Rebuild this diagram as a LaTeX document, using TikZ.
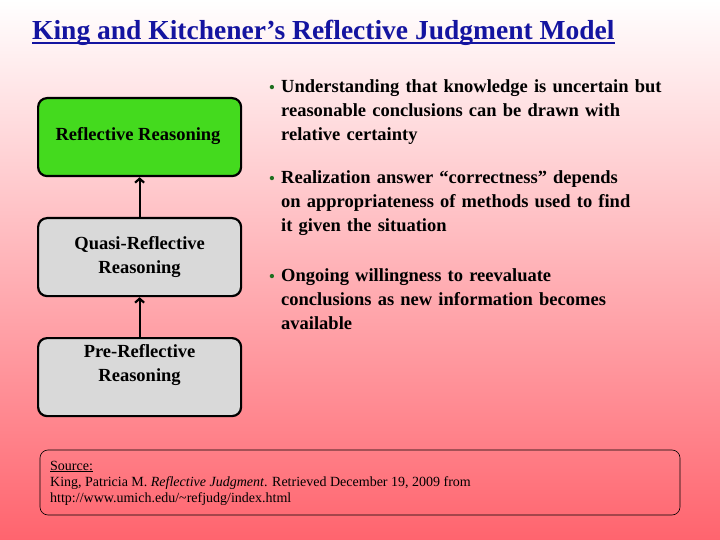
\documentclass[tikz,border=0pt]{standalone}
\usepackage{fontspec}
\setmainfont{Liberation Serif}
\usetikzlibrary{arrows.meta}
\definecolor{boxgreen}{RGB}{68,218,30}
\definecolor{boxgray}{RGB}{217,217,217}
\definecolor{bgred}{RGB}{255,100,110}
\definecolor{titleblue}{RGB}{20,20,160}
\definecolor{bulletgreen}{RGB}{30,110,30}
\begin{document}
\begin{tikzpicture}[x=1pt,y=-1pt,
  stage/.style={draw,line width=2.2pt,rounded corners=9pt,minimum width=203pt,minimum height=78pt,
    align=center,font=\fontsize{18.5}{24}\selectfont\bfseries,anchor=north west},
  item/.style={anchor=north west,text width=420pt,align=left,font=\fontsize{18.5}{24}\selectfont\bfseries,inner sep=0pt},
  bul/.style={anchor=center,inner sep=0pt,text=bulletgreen,font=\fontsize{18}{24}\selectfont}]
\shade[shading angle=-53,top color=white,bottom color=bgred] (0,0) rectangle (720,540);
\useasboundingbox (0,0) rectangle (720,540);
\node[anchor=base west,inner sep=0pt,text=titleblue,font=\fontsize{27.5}{30}\selectfont\bfseries] (title) at (32,40) {King and Kitchener’s Reflective Judgment Model};
\draw[titleblue,line width=1.3pt] ([yshift=-3pt]title.base west) -- ([yshift=-3pt]title.base east);
% stages
\node[stage,fill=boxgreen] (refl) at (37,97) {};
\node (refltext) at (138,136) {\fontsize{18.5}{24}\selectfont\bfseries Reflective Reasoning};
\node[stage,fill=boxgray] (quasi) at (37,217) {Quasi-Reflective\\Reasoning};
\node[stage,fill=boxgray] (pre) at (37,337) {Pre-Reflective\\Reasoning\\[4pt]};
\draw[line width=2.2pt,-{Straight Barb[length=4pt,width=9pt]}] (pre.north) -- (quasi.south);
\draw[line width=2.2pt,-{Straight Barb[length=4pt,width=9pt]}] (quasi.north) -- (refl.south);
% bullets
\node[bul] (b1) at (272,89) {•};
\node[item] (t1) at (281,79) {Understanding that knowledge is uncertain but\\reasonable conclusions can be drawn with\\relative certainty};
\node[bul] (b2) at (272,180) {•};
\node[item] (t2) at (281,170) {Realization answer “correctness” depends\\on appropriateness of methods used to find\\it given the situation};
\node[bul] (b3) at (272,278) {•};
\node[item] (t3) at (281,268) {Ongoing willingness to reevaluate\\conclusions as new information becomes\\available};
% source
\draw[rounded corners=8pt,line width=0.6pt] (40,450) rectangle (680,515);
\node[anchor=base west,inner sep=0pt,font=\fontsize{14}{16.5}\selectfont] (srchead) at (50,470) {Source:};
\draw[line width=0.5pt] ([yshift=-1.5pt]srchead.base west) -- ([yshift=-1.5pt]srchead.base east);
\node[anchor=north west,align=left,inner sep=0pt,font=\fontsize{14}{16.5}\selectfont] (src) at (50,476)
  {King, Patricia M. \textit{Reflective Judgment}. Retrieved December 19, 2009 from\\http://www.umich.edu/\textasciitilde refjudg/index.html};
\end{tikzpicture}
\end{document}
